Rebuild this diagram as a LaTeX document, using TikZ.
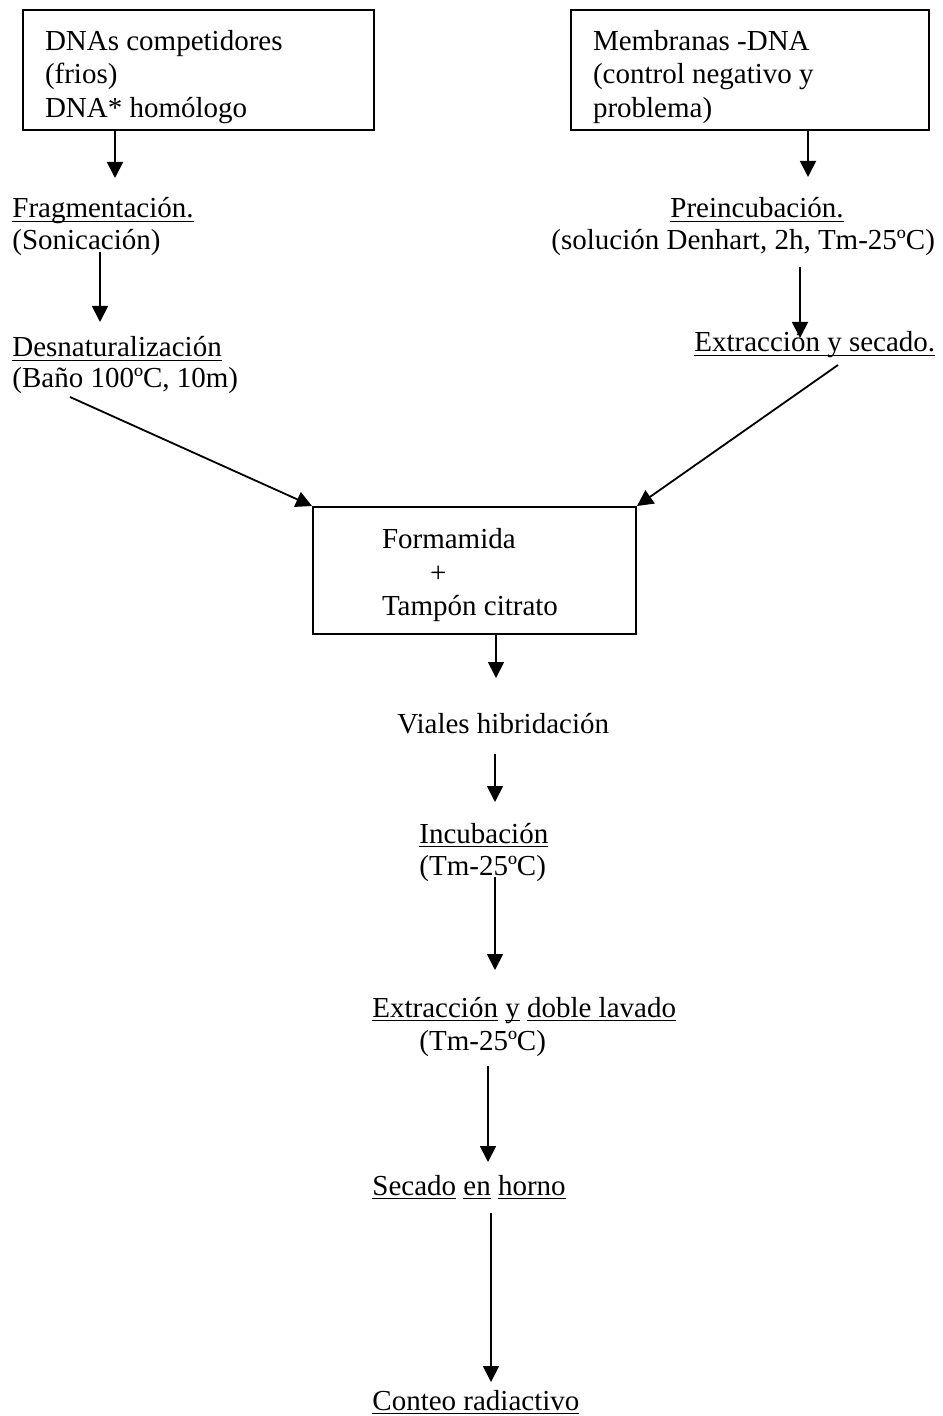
\documentclass[tikz,border=0pt]{standalone}
\usepackage{fontspec}
\setmainfont{Liberation Serif}
\usetikzlibrary{arrows.meta}
\newlength{\subrlargo}
\newcommand{\subrayado}[1]{\settowidth{\subrlargo}{#1}\rlap{\rule[-2.2pt]{\subrlargo}{0.8pt}}#1}
\newcommand{\alto}[1]{\rule{0pt}{#1}}
\tikzset{
  caja/.style={draw, line width=1pt, inner ysep=0pt, align=flush left,
    execute at begin node={\spaceskip=0pt\xspaceskip=0pt}},
  texto/.style={inner sep=0pt, anchor=base west},
  flecha/.style={-{Triangle[width=8pt,length=8pt]}, line width=0.9pt}
}

\begin{document}
\begin{tikzpicture}[x=0.5pt, y=-0.5pt, line join=miter, font=\fontsize{14.5}{16.75}\selectfont]
\useasboundingbox (0,0) rectangle (942,1416);

% cajas de partida
\node[caja, minimum height=60pt, text width=153.5pt, inner xsep=11pt] (caja1) at (198.5,70)
  {\alto{17pt}DNAs competidores\\(frios)\\DNA* homólogo};
\node[caja, minimum height=60pt, text width=157pt, inner xsep=11pt] (caja2) at (750,70)
  {\alto{17pt}Membranas -DNA\\(control negativo y\\problema)};

% rama izquierda
\node[texto] (frag) at (12,218) {\subrayado{Fragmentación.}};
\node[texto] (soni) at (12,250) {(Sonicación)};
\node[texto] (desn) at (12,357) {\subrayado{Desnaturalización}};
\node[texto] (bano) at (12,388) {(Baño 100ºC, 10m)};

% rama derecha
\node[texto] (prei) at (670,218) {\subrayado{Preincubación.}};
\node[texto] (denh) at (551,250) {(solución Denhart, 2h, Tm-25ºC)};
\node[texto] (extr) at (694,352) {\subrayado{Extracción y secado.}};

% mezcla
\node[caja, minimum height=63.5pt, text width=92.5pt, inner xsep=34.5pt] (caja3) at (474.5,570.5)
  {\alto{15pt}Formamida\\\hspace*{24pt}+\\Tampón citrato};

% tronco comun
\node[texto] (viales) at (397,733) {Viales hibridación};
\node[texto] (incu) at (419,843) {\subrayado{Incubación}};
\node[texto] (tma) at (419,875) {(Tm-25ºC)};
\node[texto] (lava) at (372,1017) {\subrayado{Extracción} \subrayado{y} \subrayado{doble lavado}};
\node[texto] (tmb) at (419,1050) {(Tm-25ºC)};
\node[texto] (seca) at (372,1195) {\subrayado{Secado} \subrayado{en} \subrayado{horno}};
\node[texto] (conteo) at (372,1410) {\subrayado{Conteo radiactivo}};

% extremos de flechas
\coordinate (p1) at (115,178);
\coordinate (o2) at (100,252);  \coordinate (p2) at (100,322);
\coordinate (p3) at (808,177);
\coordinate (o4) at (800,267);  \coordinate (p4) at (800,338);
\coordinate (o5) at (70,397);
\coordinate (o6) at (838,365);
\coordinate (p7) at (496,678);
\coordinate (o8) at (495,754);  \coordinate (p8) at (495,802);
\coordinate (o9) at (495,877);  \coordinate (p9) at (495,970);
\coordinate (o10) at (488,1066); \coordinate (p10) at (488,1162);
\coordinate (o11) at (491,1213); \coordinate (p11) at (491,1382);

\draw[flecha] (caja1.south -| p1) -- (p1);
\draw[flecha] (caja2.south -| p3) -- (p3);
\draw[flecha] (caja3.south -| p7) -- (p7);
\draw[flecha] (o5) -- (caja3.north west);
\draw[flecha] (o6) -- (caja3.north east);
\foreach \a/\b in {o2/p2,o4/p4,o8/p8,o9/p9,o10/p10,o11/p11}
  \draw[flecha] (\a) -- (\b);
\end{tikzpicture}
\end{document}
